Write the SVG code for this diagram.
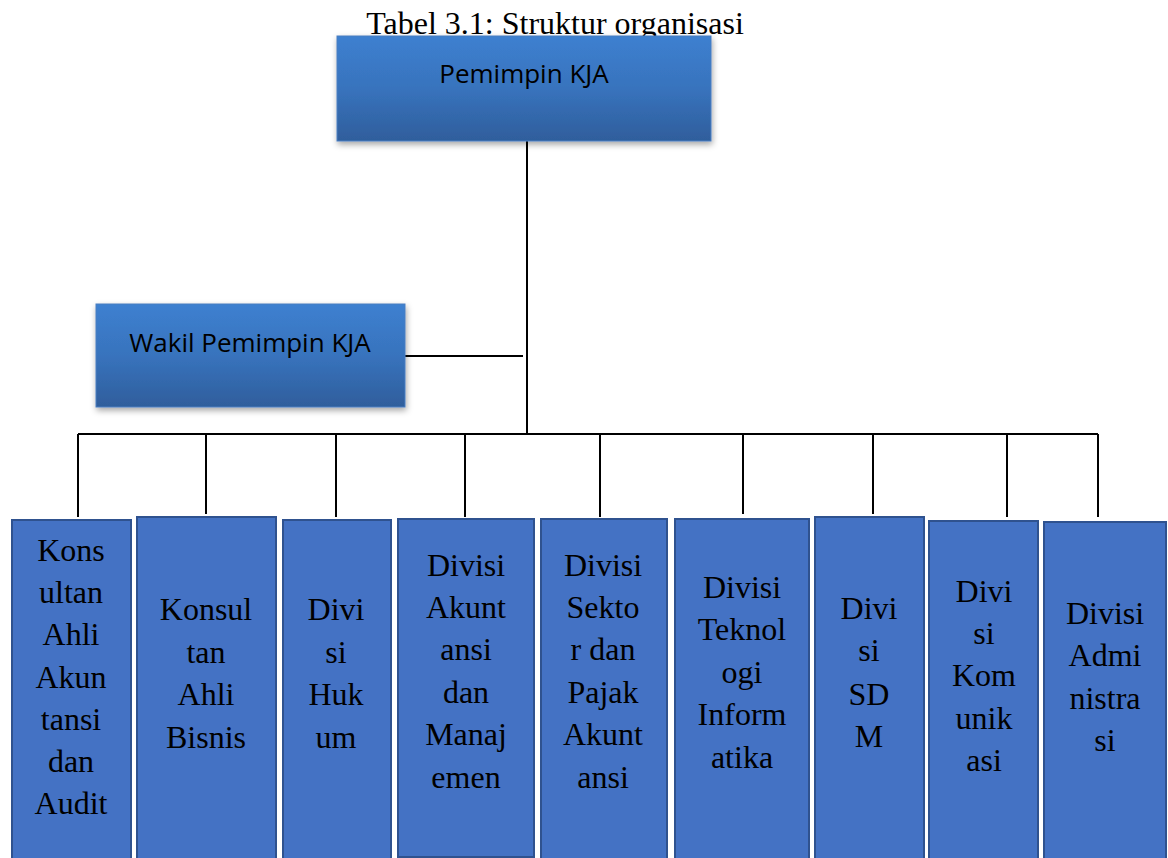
<svg xmlns="http://www.w3.org/2000/svg" width="1168" height="858" viewBox="0 0 1168 858">
<defs>
<linearGradient id="g" x1="0" y1="0" x2="0" y2="1">
<stop offset="0" stop-color="#3d80d0"/>
<stop offset="0.5" stop-color="#3873bd"/>
<stop offset="1" stop-color="#2f5e9c"/>
</linearGradient>
<filter id="sh" x="-10%" y="-10%" width="125%" height="130%">
<feDropShadow dx="1" dy="3" stdDeviation="3" flood-color="#000" flood-opacity="0.35"/>
</filter>
<style>
.title{font-family:"Liberation Serif","Times New Roman",serif;font-size:32px;fill:#000}
.head{fill:url(#g);stroke:#4a7ec0;stroke-width:1;filter:url(#sh)}
.ht{font-family:"Open Sans","Liberation Sans",sans-serif;font-size:26px;fill:#000;text-anchor:middle}
.box{fill:#4472c4;stroke:#2f528f;stroke-width:2}
.bt{font-family:"Liberation Serif","Times New Roman",serif;font-size:32px;fill:#000;text-anchor:middle}
.ln{stroke:#000;stroke-width:2;fill:none}
</style>
</defs>
<rect width="1168" height="858" fill="#fff"/>
<text class="title" x="555" y="34" text-anchor="middle">Tabel 3.1: Struktur organisasi</text>

<g id="connectors">
<path class="ln" d="M527 141V434M405 356H523M78 434H1098M78 434V517M206 434V514M336 434V517M465 434V517M600 434V517M743 434V514M873 434V514M1007 434V517M1098 434V517"/>
</g>

<g id="pemimpin">
<rect class="head" x="337" y="36" width="374" height="105"/>
<text class="ht" x="524" y="83">Pemimpin KJA</text>
</g>
<g id="wakil">
<rect class="head" x="96" y="304" width="309" height="103"/>
<text class="ht" x="250" y="352">Wakil Pemimpin KJA</text>
</g>

<g id="konsultan-akuntansi">
<rect class="box" x="12" y="520" width="119" height="345"/>
<text class="bt"><tspan x="71" y="561">Kons</tspan><tspan x="71" y="603">ultan</tspan><tspan x="71" y="645">Ahli</tspan><tspan x="71" y="688">Akun</tspan><tspan x="71" y="730">tansi</tspan><tspan x="71" y="772">dan</tspan><tspan x="71" y="814">Audit</tspan></text>
</g>
<g id="konsultan-bisnis">
<rect class="box" x="137" y="517" width="139" height="348"/>
<text class="bt"><tspan x="206" y="620">Konsul</tspan><tspan x="206" y="663">tan</tspan><tspan x="206" y="705">Ahli</tspan><tspan x="206" y="748">Bisnis</tspan></text>
</g>
<g id="divisi-hukum">
<rect class="box" x="283" y="520" width="108" height="345"/>
<text class="bt"><tspan x="336" y="620">Divi</tspan><tspan x="336" y="663">si</tspan><tspan x="336" y="705">Huk</tspan><tspan x="336" y="748">um</tspan></text>
</g>
<g id="divisi-akuntansi">
<rect class="box" x="398" y="519" width="136" height="338"/>
<text class="bt"><tspan x="466" y="576">Divisi</tspan><tspan x="466" y="618">Akunt</tspan><tspan x="466" y="660">ansi</tspan><tspan x="466" y="703">dan</tspan><tspan x="466" y="745">Manaj</tspan><tspan x="466" y="788">emen</tspan></text>
</g>
<g id="divisi-sektor">
<rect class="box" x="541" y="519" width="126" height="345"/>
<text class="bt"><tspan x="603" y="576">Divisi</tspan><tspan x="603" y="618">Sekto</tspan><tspan x="603" y="660">r dan</tspan><tspan x="603" y="703">Pajak</tspan><tspan x="603" y="745">Akunt</tspan><tspan x="603" y="788">ansi</tspan></text>
</g>
<g id="divisi-ti">
<rect class="box" x="675" y="519" width="134" height="345"/>
<text class="bt"><tspan x="742" y="598">Divisi</tspan><tspan x="742" y="640">Teknol</tspan><tspan x="742" y="683">ogi</tspan><tspan x="742" y="725">Inform</tspan><tspan x="742" y="768">atika</tspan></text>
</g>
<g id="divisi-sdm">
<rect class="box" x="815" y="517" width="109" height="348"/>
<text class="bt"><tspan x="869" y="619">Divi</tspan><tspan x="869" y="661">si</tspan><tspan x="869" y="705">SD</tspan><tspan x="869" y="747">M</tspan></text>
</g>
<g id="divisi-komunikasi">
<rect class="box" x="929" y="521" width="109" height="344"/>
<text class="bt"><tspan x="984" y="602">Divi</tspan><tspan x="984" y="644">si</tspan><tspan x="984" y="686">Kom</tspan><tspan x="984" y="729">unik</tspan><tspan x="984" y="771">asi</tspan></text>
</g>
<g id="divisi-administrasi">
<rect class="box" x="1044" y="522" width="122" height="343"/>
<text class="bt"><tspan x="1105" y="624">Divisi</tspan><tspan x="1105" y="666">Admi</tspan><tspan x="1105" y="709">nistra</tspan><tspan x="1105" y="751">si</tspan></text>
</g>
</svg>
